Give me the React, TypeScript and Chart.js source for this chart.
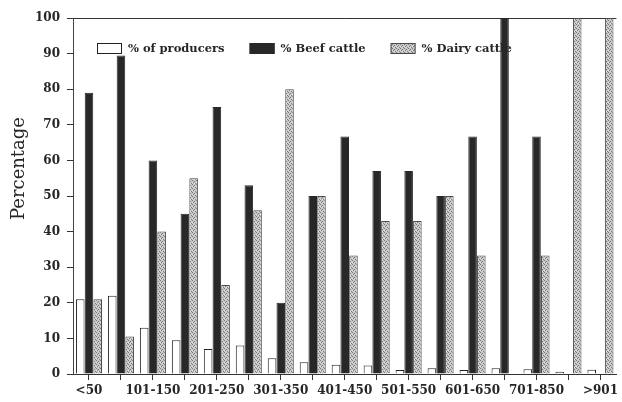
import React, { useEffect, useRef } from 'react';
import { Chart, registerables } from 'chart.js';

Chart.register(...registerables);

const categories = ['<50', '51-100', '101-150', '151-200', '201-250', '251-300', '301-350', '351-400', '401-450', '451-500', '501-550', '551-600', '601-650', '651-700', '701-850', '851-900', '>901'];
const producers = [21, 22, 13, 9.5, 7, 8, 4.4, 3.3, 2.6, 2.4, 1.1, 1.6, 1.1, 1.6, 1.3, 0.6, 1.2];
const beef = [79, 89.5, 60, 45, 75, 53, 20, 50, 66.7, 57, 57, 50, 66.7, 100, 66.7, 0, 0];
const dairy = [21, 10.5, 40, 55, 25, 46, 80, 50, 33.3, 43, 43, 50, 33.3, 0, 33.3, 100, 100];
const seriesLabels = ['% of producers', '% Beef cattle', '% Dairy cattle'];
const axisTitle = 'Percentage';

const INK = '#262626';

function makeStipple(): CanvasPattern | string {
  const c = document.createElement('canvas');
  c.width = 4;
  c.height = 4;
  const g = c.getContext('2d');
  if (!g) return '#b4b4b4';
  g.fillStyle = '#c6c6c6';
  g.fillRect(0, 0, 4, 4);
  g.fillStyle = '#7c7c7c';
  [[0, 0], [2, 1], [1, 2], [3, 3]].forEach(([x, y]) => g.fillRect(x, y, 1, 1));
  g.fillStyle = '#e2e2e2';
  [[2, 3], [0, 2]].forEach(([x, y]) => g.fillRect(x, y, 1, 1));
  return g.createPattern(c, 'repeat') || '#b4b4b4';
}

const innerLegend = {
  id: 'innerLegend',
  beforeDatasetsDraw(chart: any) {
    const { ctx, chartArea } = chart;
    ctx.save();
    ctx.font = 'bold 11.5px "DejaVu Serif"';
    ctx.textBaseline = 'middle';
    ctx.textAlign = 'left';
    let x = chartArea.left + 24;
    const top = chartArea.top + 25;
    chart.data.datasets.forEach((ds: any) => {
      ctx.fillStyle = ds.backgroundColor;
      ctx.fillRect(x, top, 25, 11);
      ctx.strokeStyle = ds.borderColor;
      ctx.lineWidth = 1;
      ctx.strokeRect(x + 0.5, top + 0.5, 24, 10);
      const tx = x + 25 + 6;
      ctx.fillStyle = INK;
      ctx.fillText(ds.label, tx, top + 6);
      x = tx + ctx.measureText(ds.label).width + 25;
    });
    ctx.restore();
  },
};

const sideTitle = {
  id: 'sideTitle',
  afterDraw(chart: any) {
    const { ctx } = chart;
    ctx.save();
    ctx.font = '18px "DejaVu Serif"';
    ctx.fillStyle = INK;
    ctx.textAlign = 'center';
    ctx.textBaseline = 'alphabetic';
    ctx.translate(24, 168.5);
    ctx.rotate(-Math.PI / 2);
    ctx.fillText(axisTitle, 0, 0);
    ctx.restore();
  },
};

export default function App() {
  const ref = useRef<HTMLCanvasElement | null>(null);

  useEffect(() => {
    if (!ref.current) return;
    const stipple = makeStipple();
    const tickFont = { family: '"DejaVu Serif"', size: 12, weight: 'bold' as const, lineHeight: 1 };
    const chart = new Chart(ref.current, {
      type: 'bar',
      data: {
        labels: categories,
        datasets: [
          {
            label: seriesLabels[0],
            data: producers,
            backgroundColor: '#ffffff',
            borderColor: '#222222',
            borderWidth: 1,
          },
          {
            label: seriesLabels[1],
            data: beef,
            backgroundColor: '#282828',
            borderColor: '#282828',
            borderWidth: 1,
          },
          {
            label: seriesLabels[2],
            data: dairy,
            backgroundColor: stipple as any,
            borderColor: '#4a4a4a',
            borderWidth: 1,
          },
        ],
      },
      options: {
        responsive: false,
        animation: false,
        events: [],
        layout: { padding: { top: 18, left: 0, right: 0, bottom: 0 } },
        datasets: {
          bar: { categoryPercentage: 0.82, barPercentage: 0.98 },
        },
        plugins: {
          legend: { display: false },
          tooltip: { enabled: false },
          title: { display: false },
        },
        scales: {
          x: {
            offset: true,
            grid: {
              offset: false,
              drawOnChartArea: false,
              drawTicks: true,
              tickLength: 6,
              tickColor: '#333333',
            },
            border: { display: true, color: '#333333', width: 1 },
            ticks: {
              autoSkip: false,
              maxRotation: 0,
              minRotation: 0,
              padding: 5,
              color: INK,
              font: tickFont,
              callback: (_v: any, i: number) => (i % 2 === 0 ? categories[i] : ''),
            },
          },
          y: {
            min: 0,
            max: 100,
            afterFit: (s: any) => {
              s.width = 73;
            },
            grid: {
              color: (c: any) => (c.tick && c.tick.value === 100 ? '#333333' : 'rgba(0,0,0,0)'),
              tickColor: '#333333',
              tickLength: 6,
              drawTicks: true,
            },
            border: { display: true, color: '#444444', width: 1 },
            ticks: {
              stepSize: 10,
              padding: 7,
              color: INK,
              font: tickFont,
            },
          },
        },
      },
      plugins: [innerLegend, sideTitle],
    });
    return () => chart.destroy();
  }, []);

  return (
    <div
      style={{
        position: 'absolute',
        left: 0,
        top: 0,
        width: 622,
        height: 402,
        overflow: 'hidden',
        background: '#ffffff',
      }}
    >
      <canvas ref={ref} width={623} height={402} style={{ display: 'block', width: 623, height: 402 }} />
    </div>
  );
}
